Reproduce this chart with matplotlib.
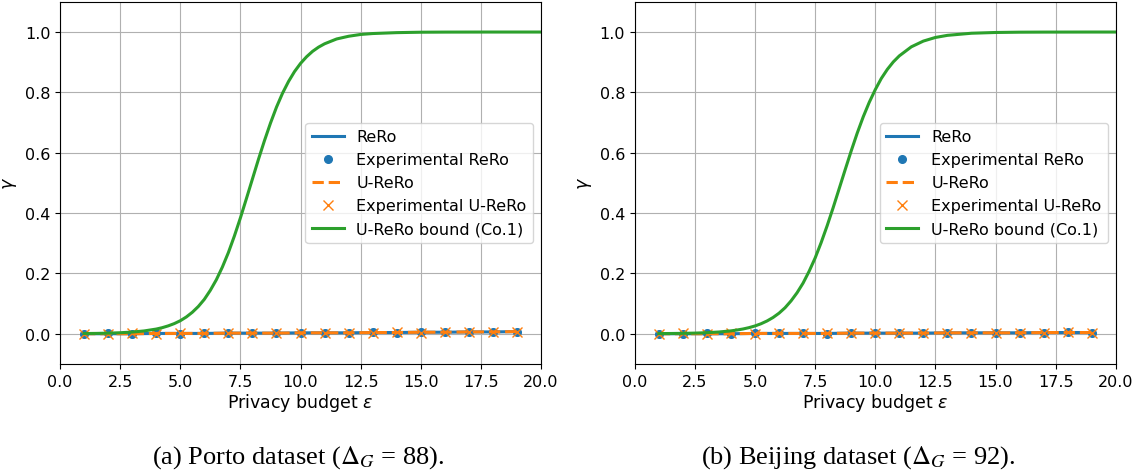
import numpy as np
import matplotlib
matplotlib.use("Agg")
import matplotlib.pyplot as plt

# privacy budgets where the experiments were run
eps_runs = [1, 2, 3, 4, 5, 6, 7, 8, 9, 10, 11, 12, 13, 14, 15, 16, 17, 18, 19]

# Porto
rero_porto = [0.000, 0.000, 0.000, 0.001, 0.001, 0.001, 0.002, 0.002, 0.002, 0.003,
              0.003, 0.003, 0.004, 0.004, 0.005, 0.005, 0.006, 0.006, 0.007]
exp_rero_porto = [0.000, 0.001, 0.000, 0.001, 0.000, 0.001, 0.002, 0.001, 0.002, 0.002,
                  0.004, 0.003, 0.005, 0.004, 0.005, 0.005, 0.006, 0.006, 0.007]
urero_porto = [0.000, 0.000, 0.000, 0.001, 0.001, 0.001, 0.002, 0.002, 0.002, 0.003,
               0.003, 0.003, 0.004, 0.004, 0.005, 0.005, 0.006, 0.006, 0.007]
exp_urero_porto = [0.000, 0.000, 0.001, 0.000, 0.001, 0.002, 0.001, 0.002, 0.003, 0.002,
                   0.003, 0.004, 0.004, 0.005, 0.004, 0.006, 0.006, 0.007, 0.006]

# Beijing
rero_beijing = [0.000, 0.000, 0.000, 0.000, 0.001, 0.001, 0.001, 0.001, 0.002, 0.002,
                0.002, 0.002, 0.003, 0.003, 0.003, 0.003, 0.004, 0.004, 0.004]
exp_rero_beijing = [0.000, 0.000, 0.001, 0.000, 0.001, 0.002, 0.001, 0.000, 0.002, 0.001,
                    0.002, 0.003, 0.002, 0.003, 0.003, 0.002, 0.004, 0.006, 0.004]
urero_beijing = [0.000, 0.000, 0.000, 0.000, 0.001, 0.001, 0.001, 0.001, 0.002, 0.002,
                 0.002, 0.002, 0.003, 0.003, 0.003, 0.003, 0.004, 0.004, 0.004]
exp_urero_beijing = [0.000, 0.001, 0.000, 0.001, 0.000, 0.001, 0.002, 0.001, 0.001, 0.002,
                     0.003, 0.002, 0.003, 0.004, 0.003, 0.004, 0.003, 0.005, 0.004]

# bound from Corollary 1
eps_bound = [1, 1.5, 2, 2.5, 3, 3.5, 4, 4.25, 4.5, 4.75, 5, 5.25, 5.5, 5.75, 6, 6.25,
             6.5, 6.75, 7, 7.25, 7.5, 7.75, 8, 8.25, 8.5, 8.75, 9, 9.25, 9.5, 9.75,
             10, 10.25, 10.5, 10.75, 11, 11.5, 12, 12.5, 13, 14, 15, 16, 17, 18, 19, 20]
bound_porto = [0.0007, 0.0011, 0.0019, 0.0033, 0.0055, 0.0093, 0.0155, 0.0201, 0.0261,
               0.0336, 0.0431, 0.0555, 0.0711, 0.0903, 0.114, 0.144, 0.179, 0.221,
               0.269, 0.324, 0.384, 0.448, 0.513, 0.578, 0.640, 0.698, 0.751, 0.797,
               0.836, 0.869, 0.896, 0.918, 0.936, 0.950, 0.961, 0.977, 0.986, 0.992,
               0.995, 0.998, 0.9994, 0.9998, 0.9999, 1.0, 1.0, 1.0]
bound_beijing = [0.0005, 0.0008, 0.0013, 0.0021, 0.0035, 0.0058, 0.0095, 0.0123, 0.0157,
                 0.0202, 0.0258, 0.0331, 0.0423, 0.0538, 0.0682, 0.0862, 0.109, 0.136,
                 0.168, 0.207, 0.251, 0.302, 0.358, 0.418, 0.481, 0.544, 0.606, 0.665,
                 0.719, 0.767, 0.809, 0.846, 0.876, 0.901, 0.921, 0.951, 0.970, 0.982,
                 0.989, 0.996, 0.9985, 0.9995, 0.9998, 0.9999, 1.0, 1.0]

captions = [r"(a) Porto dataset ($\Delta_G$ = 88).", r"(b) Beijing dataset ($\Delta_G$ = 92)."]

panels = [
    (rero_porto, exp_rero_porto, urero_porto, exp_urero_porto, bound_porto),
    (rero_beijing, exp_rero_beijing, urero_beijing, exp_urero_beijing, bound_beijing),
]

fig = plt.figure(figsize=(11.41, 4.77), dpi=100)
ax_left = fig.add_axes([0.0526, 0.235, 0.4216, 0.759])
ax_right = fig.add_axes([0.5563, 0.235, 0.4216, 0.759])

for ax, (rero, exp_rero, urero, exp_urero, bound) in zip([ax_left, ax_right], panels):
    ax.plot(eps_runs, rero, color="tab:blue", lw=2.2, label="ReRo")
    ax.plot(eps_runs, exp_rero, "o", color="tab:blue", ms=5.5, label="Experimental ReRo")
    ax.plot(eps_runs, urero, "--", color="tab:orange", lw=2.2, label="U-ReRo")
    ax.plot(eps_runs, exp_urero, "x", color="tab:orange", ms=6.5, label="Experimental U-ReRo")
    ax.plot(eps_bound, bound, color="tab:green", lw=2.2, label="U-ReRo bound (Co.1)")
    ax.set_xlim(0, 20)
    ax.set_ylim(-0.1, 1.1)
    ax.set_yticks([0.0, 0.2, 0.4, 0.6, 0.8, 1.0])
    ax.grid(True)
    ax.tick_params(labelsize=11.5)
    ax.set_xlabel(r"Privacy budget $\varepsilon$", fontsize=12.5, labelpad=2)
    ax.set_ylabel(r"$\gamma$", fontsize=12.5)
    ax.legend(loc="center right", fontsize=11.5)

fig.text(0.261, 0.04, captions[0], ha="center", va="center", fontsize=19,
         family="Liberation Serif", math_fontfamily="stix")
fig.text(0.752, 0.04, captions[1], ha="center", va="center", fontsize=19,
         family="Liberation Serif", math_fontfamily="stix")

fig.savefig("out.png", dpi=100)
